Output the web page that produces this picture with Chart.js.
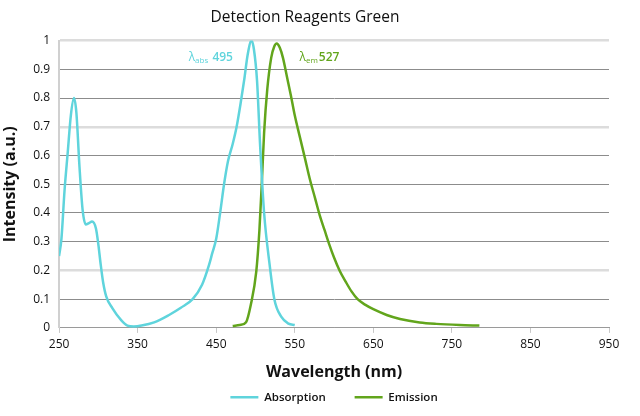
<!DOCTYPE html>
<html>
<head>
<meta charset="utf-8">
<script src="https://cdn.jsdelivr.net/npm/chart.js@4.4.1/dist/chart.umd.min.js"></script>
<style>
  html, body { margin: 0; padding: 0; background: #fff; }
  #wrap { width: 640px; height: 416px; }
</style>
</head>
<body>
<div id="wrap"><canvas id="spectrumChart"></canvas></div>
<script>
// absorption spectrum (wavelength nm, intensity)
var absWavelength = [250, 253, 257, 261, 265, 269, 272, 276, 280, 284, 288, 292, 297, 300, 303, 306, 310, 318, 329, 337, 345, 355, 371, 390, 405, 420, 432, 441, 445, 450, 455, 460, 465, 471, 476, 481, 486, 490, 495, 498, 502, 506, 511, 518, 524, 533, 542, 550];
var absIntensity = [0.25, 0.31, 0.48, 0.61, 0.74, 0.80, 0.75, 0.56, 0.41, 0.36, 0.365, 0.37, 0.345, 0.29, 0.22, 0.16, 0.11, 0.068, 0.027, 0.008, 0.005, 0.008, 0.019, 0.045, 0.07, 0.10, 0.15, 0.22, 0.26, 0.31, 0.40, 0.50, 0.58, 0.64, 0.70, 0.78, 0.87, 0.95, 1.0, 0.97, 0.86, 0.63, 0.40, 0.22, 0.10, 0.038, 0.015, 0.01];

// emission spectrum
var emWavelength = [471, 480, 488, 494, 501, 505, 508, 511, 515, 520, 524, 527, 531, 535, 540, 545, 550, 556, 563, 569, 576, 582, 588, 594, 600, 607, 615, 622, 630, 640, 650, 667, 684, 709, 730, 760, 785];
var emIntensity = [0.007, 0.01, 0.02, 0.08, 0.196, 0.34, 0.50, 0.68, 0.83, 0.94, 0.98, 0.99, 0.975, 0.94, 0.875, 0.81, 0.74, 0.67, 0.59, 0.52, 0.45, 0.39, 0.34, 0.29, 0.245, 0.20, 0.16, 0.128, 0.10, 0.08, 0.065, 0.045, 0.031, 0.019, 0.014, 0.010, 0.008];

var absPeak = 495;
var emPeak = 527;

var xTicks = [250, 350, 450, 550, 650, 750, 850, 950];
var yTicks = [0, 0.1, 0.2, 0.3, 0.4, 0.5, 0.6, 0.7, 0.8, 0.9, 1];
var lightGridLines = [1, 0.7, 0.2]; // these look paler/thicker in the picture

var absColor = "#5fd4dc";
var emColor = "#62a51c";
var FONT = "'Open Sans', 'Noto Sans', sans-serif";

function toPoints(xs, ys) {
    var pts = [];
    for (var i = 0; i < xs.length; i++) {
        pts.push({ x: xs[i], y: ys[i] });
    }
    return pts;
}

// draws the two peak labels, lambda with subscript
var peakLabels = {
    id: "peakLabels",
    afterDatasetsDraw: function (chart) {
        var ctx = chart.ctx;
        var xs = chart.scales.x, ys = chart.scales.y;
        function label(x, y, sub, num, color) {
            ctx.save();
            ctx.fillStyle = color;
            ctx.textBaseline = "alphabetic";
            ctx.font = "12px " + FONT;
            ctx.fillText("λ", x, y);
            x += ctx.measureText("λ").width;
            ctx.font = "8px " + FONT;
            ctx.fillText(sub, x, y + 2);
            x += ctx.measureText(sub).width + 1;
            ctx.font = "600 12px " + FONT;
            ctx.fillText(num, x, y);
            ctx.restore();
        }
        var yPix = ys.getPixelForValue(0.93);
        label(xs.getPixelForValue(415), yPix, "abs", " " + absPeak, absColor);
        label(xs.getPixelForValue(556), yPix, "em", String(emPeak), emColor);
    }
};

var ctx = document.getElementById("spectrumChart").getContext("2d");

var chart = new Chart(ctx, {
    type: "line",
    data: {
        datasets: [{
            label: "Absorption",
            data: toPoints(absWavelength, absIntensity),
            borderColor: absColor,
            backgroundColor: absColor,
            borderWidth: 2.5,
            pointRadius: 0,
            cubicInterpolationMode: "monotone"
        }, {
            label: "Emission",
            data: toPoints(emWavelength, emIntensity),
            borderColor: emColor,
            backgroundColor: emColor,
            borderWidth: 2.5,
            pointRadius: 0,
            cubicInterpolationMode: "monotone"
        }]
    },
    options: {
        responsive: true,
        maintainAspectRatio: false,
        animation: false,
        layout: { padding: { left: 1, right: 31, top: 8, bottom: 3 } },
        plugins: {
            title: {
                display: true,
                text: "Detection Reagents Green",
                color: "#111",
                font: { family: FONT, size: 15.5, weight: "normal" },
                padding: { top: 0, bottom: 14 }
            },
            legend: {
                position: "bottom",
                fullSize: false,
                labels: {
                    usePointStyle: true,
                    pointStyle: "line",
                    pointStyleWidth: 28,
                    boxHeight: 2,
                    color: "#111",
                    padding: 8,
                    font: { family: FONT, size: 11.5, weight: "600" },
                    generateLabels: function (chart) {
                        // trailing spaces widen the gap between the two items
                        var items = Chart.defaults.plugins.legend.labels.generateLabels(chart);
                        items[0].text = items[0].text + "       ";
                        items.forEach(function (it) { it.lineWidth = 2.5; });
                        return items;
                    }
                }
            },
            tooltip: { enabled: false }
        },
        scales: {
            x: {
                type: "linear",
                min: 250,
                max: 950,
                afterBuildTicks: function (axis) {
                    axis.ticks = xTicks.map(function (v) { return { value: v }; });
                },
                grid: {
                    drawOnChartArea: false,
                    drawTicks: true,
                    tickLength: 5,
                    color: "#c8c8c8"
                },
                border: { color: "#9a9a9a", width: 1 },
                ticks: {
                    color: "#111",
                    padding: 4,
                    font: { family: FONT, size: 12 }
                },
                title: {
                    display: true,
                    text: "Wavelength (nm)",
                    color: "#111",
                    font: { family: FONT, size: 16, weight: "bold" },
                    padding: { top: 8, bottom: 1 }
                }
            },
            y: {
                min: 0,
                max: 1,
                afterBuildTicks: function (axis) {
                    axis.ticks = yTicks.map(function (v) { return { value: v }; });
                },
                grid: {
                    drawTicks: false,
                    color: function (c) {
                        return lightGridLines.indexOf(c.tick.value) >= 0 ? "#dcdcdc" : "#8c8c8c";
                    },
                    lineWidth: function (c) {
                        return lightGridLines.indexOf(c.tick.value) >= 0 ? 2.5 : 1;
                    }
                },
                border: { color: "#d0d0d0", width: 2 },
                ticks: {
                    color: "#111",
                    padding: 9,
                    font: { family: FONT, size: 12 },
                    callback: function (v) { return String(Math.round(v * 10) / 10); }
                },
                title: {
                    display: true,
                    text: "Intensity (a.u.)",
                    color: "#111",
                    font: { family: FONT, size: 16, weight: "bold" },
                    padding: { top: 0, bottom: 4 }
                }
            }
        }
    },
    plugins: [peakLabels]
});
</script>
</body>
</html>
